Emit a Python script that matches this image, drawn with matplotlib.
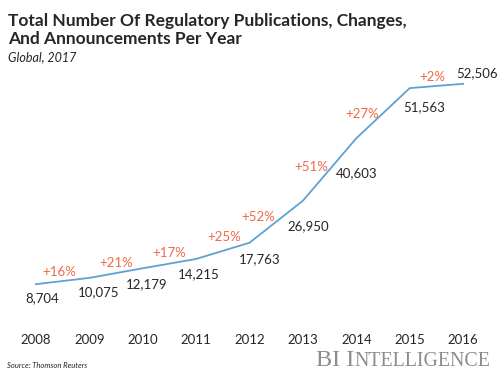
import matplotlib
import matplotlib.pyplot as plt

matplotlib.use("Agg")

years = [2008, 2009, 2010, 2011, 2012, 2013, 2014, 2015, 2016]
counts = [8704, 10075, 12179, 14215, 17763, 26950, 40603, 51563, 52506]
growth = ["+16%", "+21%", "+17%", "+25%", "+52%", "+51%", "+27%", "+2%"]

# label offsets in pixels (dx, dy; dy positive = down)
val_off = [(6, 14), (9, 14), (4, 16), (3, 15), (10, 16), (5, 25), (0, 35), (14, 19), (14, -11)]
pct_off = [(-3, -9), (0, -10), (0, -11), (1, -14), (-18, -5), (-18, -2), (-21, 1), (-4, -9)]

LINE = "#5EA1D3"
PCT = "#F0684A"
TXT = "#262626"
plt.rcParams["font.family"] = ["Lato", "DejaVu Sans"]

fig = plt.figure(figsize=(5, 3.75), dpi=100)
ax = fig.add_axes([0.014, 0.136, 0.97, 0.699])
ax.plot(years, counts, color=LINE, lw=1.3)
ax.set_xlim(2007.46, 2016.54)
ax.set_ylim(0, 57300)
ax.axhline(0, color="#e3e3e3", lw=0.8)
for s in ax.spines.values():
    s.set_visible(False)
ax.set_yticks([])
ax.set_xticks(years)
ax.set_xticklabels([str(y) for y in years], fontsize=9.5, color=TXT)
ax.tick_params(axis="x", length=0, pad=7.5)

px = 72 / 100  # pixel -> points
for y, c, (dx, dy) in zip(years, counts, val_off):
    ax.annotate(f"{c:,}", (y, c), xytext=(dx * px, -dy * px), textcoords="offset points",
                ha="center", va="center", fontsize=9.5, color=TXT)
for i, (g, (dx, dy)) in enumerate(zip(growth, pct_off)):
    mx = (years[i] + years[i + 1]) / 2
    my = (counts[i] + counts[i + 1]) / 2
    ax.annotate(g, (mx, my), xytext=(dx * px, -dy * px), textcoords="offset points",
                ha="center", va="center", fontsize=9.5, color=PCT)

fig.text(0.016, 0.966, "Total Number Of Regulatory Publications, Changes,\nAnd Announcements Per Year",
         fontsize=12.5, fontweight="bold", color=TXT, va="top", linespacing=1.15)
fig.text(0.016, 0.848, "Global, 2017", fontsize=9, style="italic", color=TXT, va="center")
fig.text(0.014, 0.024, "Source: Thomson Reuters", fontsize=5.5, style="italic", color=TXT, va="center")

t1 = fig.text(0.632, 0.024, "BI I", fontsize=17.5, family="Liberation Serif", color="#8c8c8c", va="baseline")
fig.canvas.draw()
bb = t1.get_window_extent()
fig.text(bb.x1 / fig.bbox.width, 0.024, "NTELLIGENCE", fontsize=14.3, family="Liberation Serif",
         color="#8c8c8c", va="baseline")

fig.savefig("out.png", dpi=100)
